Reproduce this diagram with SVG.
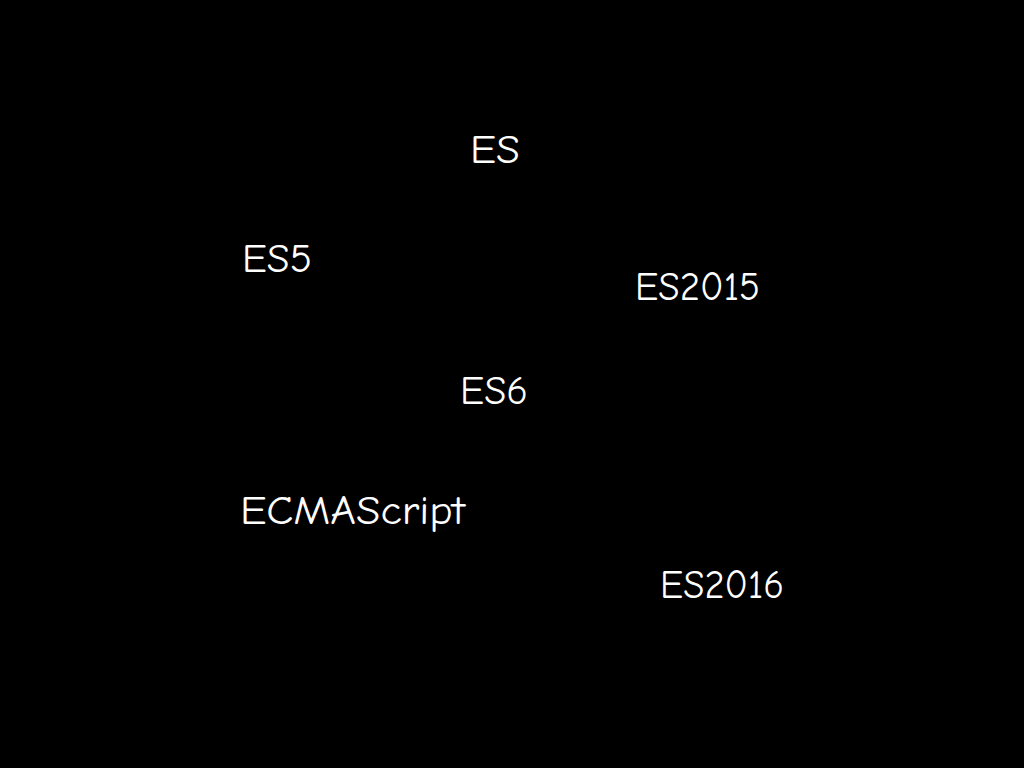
<svg xmlns="http://www.w3.org/2000/svg" width="1024" height="768" viewBox="0 0 1024 768">
<style>
.t{font-family:"Comic Neue","Liberation Sans","DejaVu Sans",sans-serif;font-size:40px;fill:#ffffff;lengthAdjust:spacingAndGlyphs}
</style>
<rect x="0" y="0" width="1024" height="768" fill="#000000"/>
<text class="t" x="470" y="163" textLength="50" lengthAdjust="spacingAndGlyphs">ES</text>
<text class="t" x="242" y="272" textLength="70" lengthAdjust="spacingAndGlyphs">ES5</text>
<text class="t" x="635" y="300" textLength="125" lengthAdjust="spacingAndGlyphs">ES2015</text>
<text class="t" x="460" y="404" textLength="68" lengthAdjust="spacingAndGlyphs">ES6</text>
<text class="t" x="240" y="524" textLength="225" lengthAdjust="spacingAndGlyphs">ECMAScript</text>
<text class="t" x="660" y="598" textLength="124" lengthAdjust="spacingAndGlyphs">ES2016</text>
</svg>
